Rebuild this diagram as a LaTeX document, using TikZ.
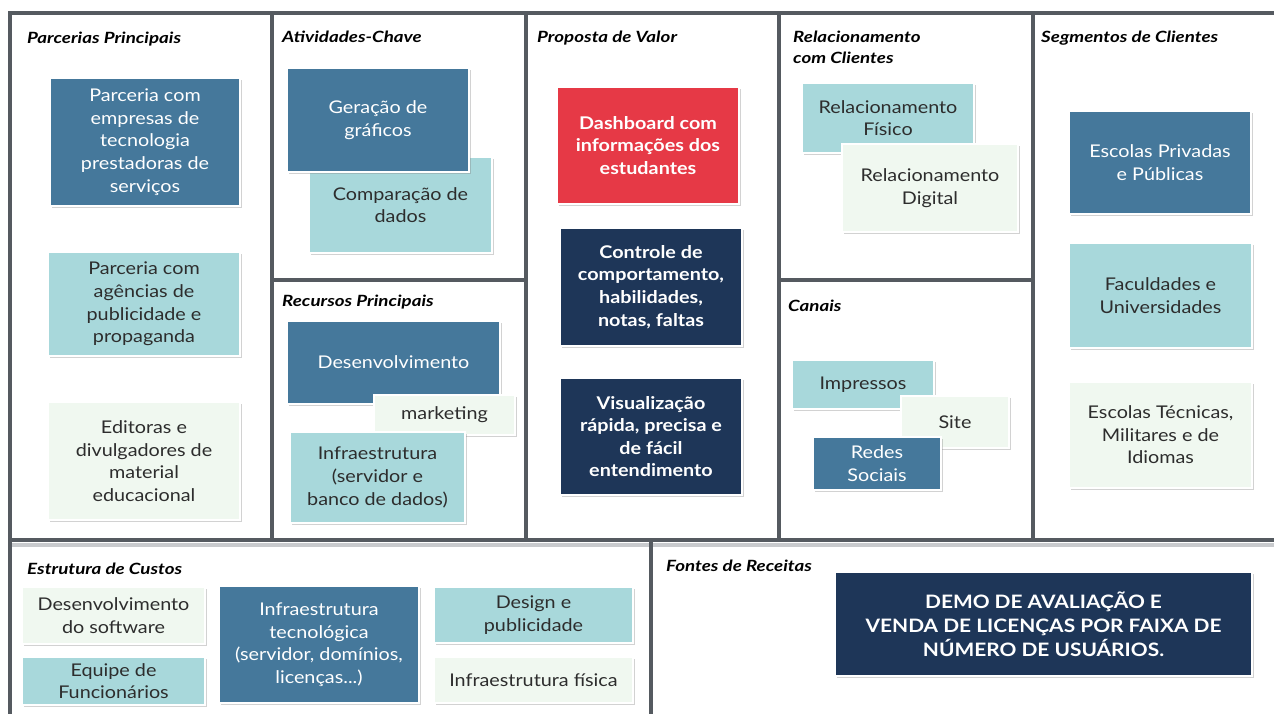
\documentclass[tikz,border=0pt]{standalone}
\usepackage{fontspec}
\setmainfont{Lato}[FakeStretch=1.13]
\newfontfamily\headfont{Lato}[FakeStretch=1.21]
\usetikzlibrary{shadows}
\definecolor{cdark}{RGB}{69,120,155}
\definecolor{cteal}{RGB}{168,216,219}
\definecolor{cpale}{RGB}{240,248,240}
\definecolor{cred}{RGB}{230,57,70}
\definecolor{cnavy}{RGB}{30,54,88}
\definecolor{cframe}{RGB}{85,90,96}
\definecolor{cframelight}{RGB}{200,202,205}
\definecolor{ctext}{RGB}{45,45,45}
\begin{document}
\begin{tikzpicture}[x=1pt,y=-1pt,
 frame/.style={draw=cframe, line width=4.5pt},
 card/.style={draw=white, line width=1.2pt, align=center, inner sep=0pt,
   font=\fontsize{17.5}{22.6}\selectfont,
   drop shadow={shadow xshift=1.8pt, shadow yshift=-1.8pt, opacity=0.35}},
 darkcard/.style={card, fill=cdark, text=white},
 tealcard/.style={card, fill=cteal, text=ctext},
 palecard/.style={card, fill=cpale, text=ctext},
 redcard/.style={card, fill=cred, text=white, font=\bfseries\fontsize{17.5}{22.6}\selectfont},
 navycard/.style={card, fill=cnavy, text=white, font=\bfseries\fontsize{17.5}{22.6}\selectfont},
 heading/.style={anchor=base west, inner sep=0pt, text=black, font=\headfont\bfseries\itshape\fontsize{15.5}{21}\selectfont}
]
\useasboundingbox (0,0) rectangle (1274,714);
\clip (0,0) rectangle (1274,714);
\fill[white] (0,0) rectangle (1274,714);

% frame
\draw[cframelight, line width=4pt] (10,545) -- (1290,545);
\draw[frame, line join=miter] (1290,13) -- (10,13) -- (10,730);
\draw[frame] (272,13) -- (272,540);
\draw[frame] (526,13) -- (526,540);
\draw[frame] (779,13) -- (779,540);
\draw[frame] (1033,13) -- (1033,540);
\draw[frame] (272,280) -- (526,280);
\draw[frame] (779,280) -- (1033,280);
\draw[frame] (10,540) -- (1290,540);
\draw[frame] (651,540) -- (651,730);

% headings
\node[heading] (h1) at (27,44) {Parcerias Principais};
\node[heading] (h2) at (282,43) {Atividades-Chave};
\node[heading] (h3) at (537,43) {Proposta de Valor};
\node[heading] (h4a) at (793,43) {Relacionamento};
\node[heading] (h4b) at (793,64) {com Clientes};
\node[heading] (h5) at (1041,43) {Segmentos de Clientes};
\node[heading] (h6) at (282,306) {Recursos Principais};
\node[heading] (h7) at (788,311) {Canais};
\node[heading] (h8) at (27,574) {Estrutura de Custos};
\node[heading] (h9) at (666,571) {Fontes de Receitas};

% Parcerias Principais
\node[darkcard, minimum width=190, minimum height=128] (pp1) at (145,142)
  {Parceria com\\empresas de\\tecnologia\\prestadoras de\\serviços};
\node[tealcard, minimum width=192, minimum height=104] (pp2) at (144,304)
  {Parceria com\\agências de\\publicidade e\\propaganda};
\node[palecard, minimum width=192, minimum height=118] (pp3) at (144,461)
  {Editoras e\\divulgadores de\\material\\educacional};

% Atividades-Chave
\node[tealcard, minimum width=183, minimum height=96] (ac2) at (400.5,205)
  {Comparação de\\dados};
\node[darkcard, minimum width=182, minimum height=104] (ac1) at (378,120)
  {Geração de\\gráficos};

% Recursos Principais
\node[darkcard, minimum width=213, minimum height=83] (rp1) at (393.5,362.5)
  {Desenvolvimento};
\node[palecard, minimum width=141, minimum height=40] (rp2) at (444.5,415)
  {marketing};
\node[tealcard, minimum width=175, minimum height=91] (rp3) at (377.5,477.5)
  {Infraestrutura\\(servidor e\\banco de dados)};

% Proposta de Valor
\node[redcard, minimum width=182, minimum height=117] (pv1) at (648,145.5)
  {Dashboard com\\informações dos\\estudantes};
\node[navycard, minimum width=182, minimum height=118] (pv2) at (651,287)
  {Controle de\\comportamento,\\habilidades,\\notas, faltas};
\node[navycard, minimum width=182, minimum height=117] (pv3) at (651,436.5)
  {Visualização\\rápida, precisa e\\de fácil\\entendimento};

% Relacionamento com Clientes
\node[tealcard, minimum width=172, minimum height=70] (rc1) at (888,118)
  {Relacionamento\\Físico};
\node[palecard, minimum width=176, minimum height=88] (rc2) at (930,188)
  {Relacionamento\\Digital};

% Canais
\node[tealcard, minimum width=142, minimum height=49] (ca1) at (863,384.5)
  {Impressos};
\node[palecard, minimum width=108, minimum height=52] (ca2) at (955,422)
  {Site};
\node[darkcard, minimum width=128, minimum height=53] (ca3) at (877,463.5)
  {Redes\\Sociais};

% Segmentos de Clientes
\node[darkcard, minimum width=182, minimum height=103] (cs1) at (1160,162.5)
  {Escolas Privadas\\e Públicas};
\node[tealcard, minimum width=183, minimum height=105] (cs2) at (1160.5,295.5)
  {Faculdades e\\Universidades};
\node[palecard, minimum width=183, minimum height=106] (cs3) at (1160.5,435)
  {Escolas Técnicas,\\Militares e de\\Idiomas};

% Estrutura de Custos
\node[palecard, minimum width=183, minimum height=57] (ec1) at (113.5,615.5)
  {Desenvolvimento\\do software};
\node[tealcard, minimum width=183, minimum height=48] (ec2) at (113.5,681)
  {Equipe de\\Funcionários};
\node[darkcard, minimum width=200, minimum height=117] (ec3) at (319,644.5)
  {Infraestrutura\\tecnológica\\(servidor, domínios,\\licenças...)};
\node[tealcard, minimum width=199, minimum height=56] (ec4) at (533.5,615)
  {Design e\\publicidade};
\node[palecard, minimum width=199, minimum height=46] (ec5) at (533.5,680)
  {Infraestrutura física};

% Fontes de Receitas
\node[navycard, minimum width=417, minimum height=104, font=\bfseries\fontsize{18.5}{24}\selectfont] (fr1) at (1043.5,624)
  {DEMO DE AVALIAÇÃO E\\VENDA DE LICENÇAS POR FAIXA DE\\NÚMERO DE USUÁRIOS.};
\end{tikzpicture}
\end{document}
